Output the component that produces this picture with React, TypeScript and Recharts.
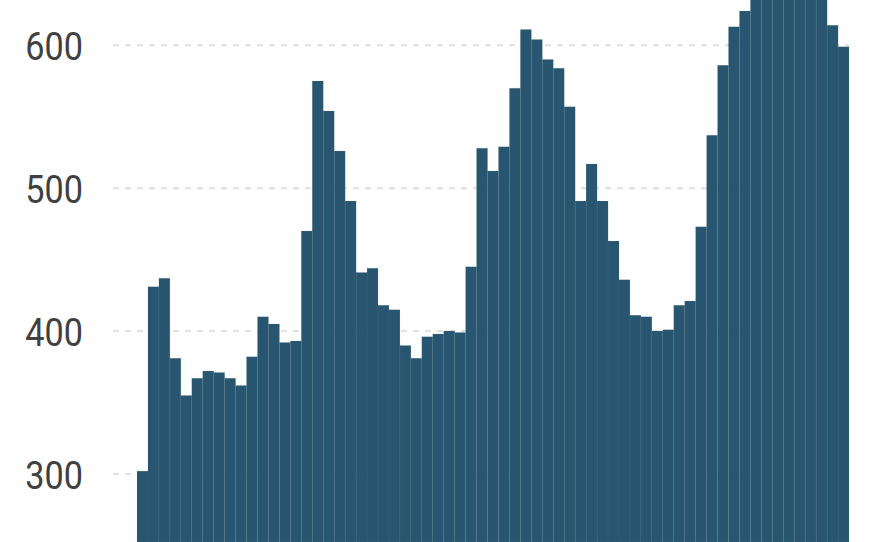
import { BarChart, Bar, XAxis, YAxis, CartesianGrid } from 'recharts';

// weekly counts, left to right (bars 57-63 run past the top of the frame)
const counts = [
  302, 431, 437, 381, 355, 367, 372, 371, 367, 362,
  382, 410, 405, 392, 393, 470, 575, 554, 526, 491,
  441, 444, 418, 415, 390, 381, 396, 398, 400, 399,
  445, 528, 512, 529, 570, 611, 604, 590, 584, 557,
  491, 517, 491, 463, 436, 411, 410, 400, 401, 418,
  421, 473, 537, 586, 613, 624, 648, 665, 680, 688,
  682, 668, 650, 614, 599
];
const weeks = counts.map((_, i) => `W${i + 1}`);
const yTicks = [300, 400, 500, 600];

const data = weeks.map((week, i) => ({ week, count: counts[i] }));

const YTick = (props: any) => {
  const { y, payload } = props;
  return (
    <text
      x={83}
      y={y + 15}
      textAnchor="end"
      fontSize={38}
      fill="#404040"
      fontFamily="Roboto, sans-serif"
      transform={`translate(83 0) scale(0.9 1) translate(-83 0)`}
    >
      {payload.value}
    </text>
  );
};

export default function App() {
  return (
    <div>
      <style>{'body{margin:0;overflow:hidden}'}</style>
      <BarChart
        width={880}
        height={542}
        data={data}
        barCategoryGap={0}
        margin={{ top: 0, right: 31, bottom: 0, left: 0 }}
      >
        <CartesianGrid
          vertical={false}
          horizontalValues={yTicks}
          stroke="#e0e0e0"
          strokeWidth={2}
          strokeDasharray="6 6"
        />
        <XAxis dataKey="week" hide padding={{ left: 24, right: 0 }} />
        <YAxis
          width={113}
          domain={[252.4, 631.7]}
          allowDataOverflow
          ticks={yTicks}
          axisLine={false}
          tickLine={false}
          tick={<YTick />}
        />
        <Bar
          dataKey="count"
          fill="#285570"
          stroke="#6f8fa0"
          strokeOpacity={0.12}
          strokeWidth={1}
          isAnimationActive={false}
        />
      </BarChart>
    </div>
  );
}
